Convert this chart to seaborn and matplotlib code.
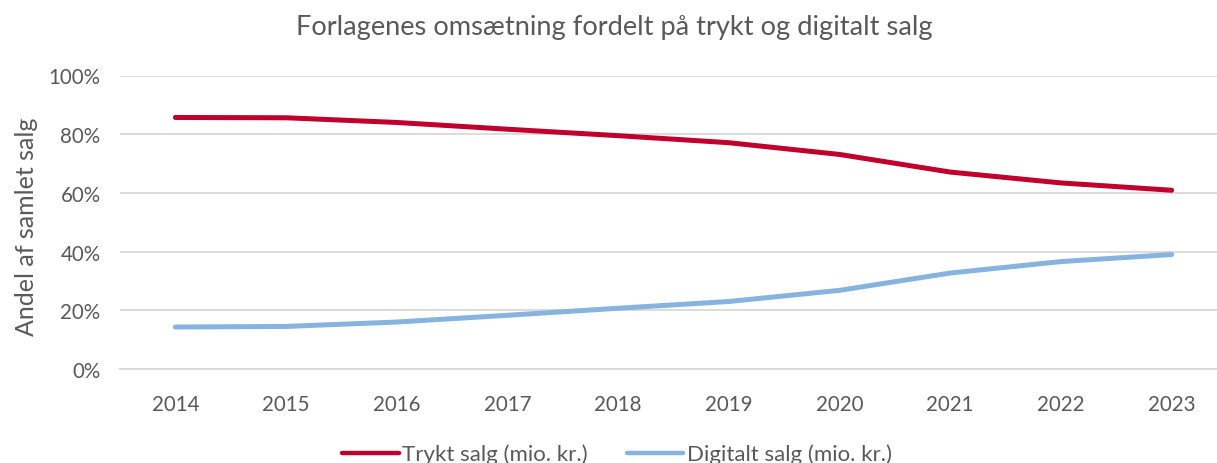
import pandas as pd
import seaborn as sns
import matplotlib.pyplot as plt
from matplotlib.ticker import PercentFormatter

# Andel af samlet salg
years = [2014, 2015, 2016, 2017, 2018, 2019, 2020, 2021, 2022, 2023]
trykt = [0.857, 0.856, 0.840, 0.817, 0.795, 0.771, 0.731, 0.671, 0.634, 0.609]
digitalt = [0.143, 0.145, 0.160, 0.183, 0.207, 0.230, 0.268, 0.327, 0.366, 0.390]
series_names = ["Trykt salg (mio. kr.)", "Digitalt salg (mio. kr.)"]
colors = ["#C0002D", "#87B4DE"]
title = "Forlagenes omsætning fordelt på trykt og digitalt salg"
ylabel = "Andel af samlet salg"

df = pd.DataFrame({"År": years * 2,
                   "Andel": trykt + digitalt,
                   "Serie": [series_names[0]] * len(years) + [series_names[1]] * len(years)})

sns.set_style("white")
plt.rcParams["font.family"] = ["Lato", "DejaVu Sans"]
grey = "#595959"

fig = plt.figure(figsize=(12.17, 4.64), dpi=100)
ax = fig.add_axes([120 / 1217, 1 - 370 / 464, (1217 - 120) / 1217, (370 - 76.5) / 464])

sns.lineplot(data=df, x="År", y="Andel", hue="Serie", palette=colors,
             linewidth=3.6, solid_capstyle="round", ax=ax, legend=False)

ax.set_xlim(2013.5, 2023.41)
ax.set_ylim(0, 1)
ax.set_xticks(years)
ax.set_yticks([0, 0.2, 0.4, 0.6, 0.8, 1.0])
ax.yaxis.set_major_formatter(PercentFormatter(1.0, decimals=0))
ax.grid(axis="y", color="#D9D9D9", linewidth=1.3)
ax.set_axisbelow(True)
for s in ["top", "right", "left"]:
    ax.spines[s].set_visible(False)
ax.spines["bottom"].set_color("#D9D9D9")
ax.spines["bottom"].set_linewidth(1.3)
ax.tick_params(axis="both", length=0, labelsize=14.8, colors=grey, pad=14)
ax.tick_params(axis="x", pad=18)
ax.set_xlabel("")
ax.set_ylabel("")

fig.text(27 / 1217, 1 - 227 / 464, ylabel, rotation=90, ha="center", va="center",
         fontsize=18, color=grey)
fig.text(614 / 1217, 1 - 28 / 464, title, ha="center", va="center", fontsize=19.6, color=grey)

handles = [plt.Line2D([], [], color=c, linewidth=3.2, solid_capstyle="round") for c in colors]
leg = fig.legend(handles, series_names, loc="center", bbox_to_anchor=(617 / 1217, 1 - 455 / 464),
                 ncol=2, frameon=False, fontsize=16, handlelength=2.55, handletextpad=0.15,
                 columnspacing=1.75, borderpad=0)
for t in leg.get_texts():
    t.set_color(grey)

fig.savefig("out.png", dpi=100)
